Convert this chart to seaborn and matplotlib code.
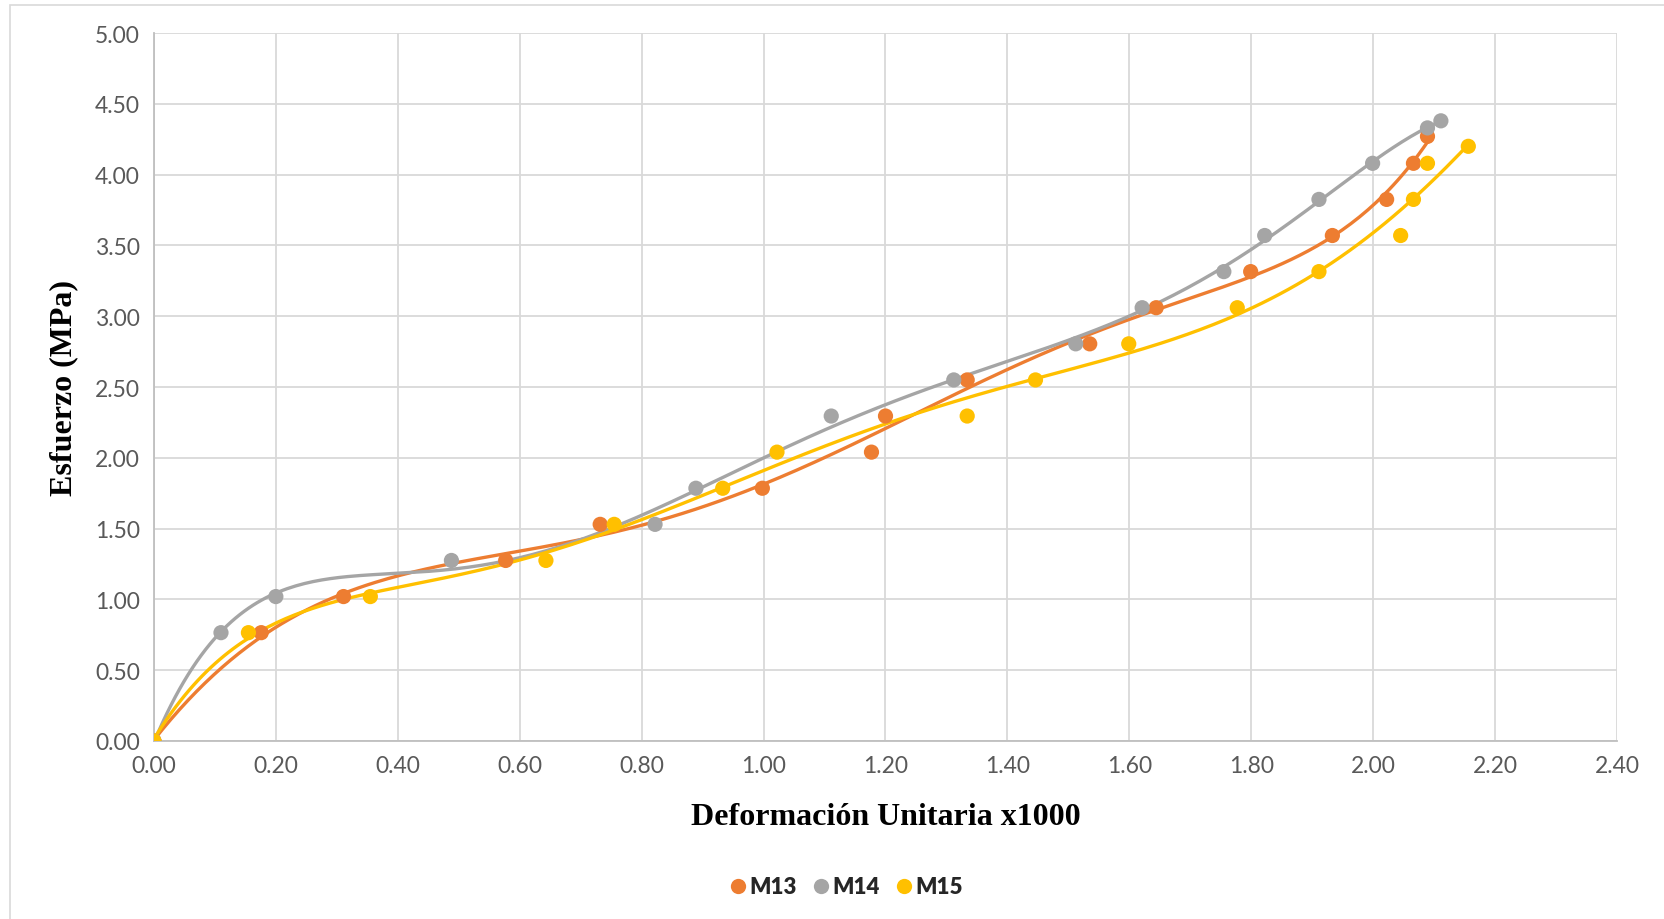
import numpy as np
import pandas as pd
import matplotlib
matplotlib.use("Agg")
import matplotlib.pyplot as plt
import seaborn as sns
from matplotlib.patches import Rectangle
from matplotlib.lines import Line2D

# ---- data ----
series_names = ["M13", "M14", "M15"]
m13_x = [0.0, 0.176, 0.311, 0.577, 0.732, 0.998, 1.177, 1.200, 1.334, 1.535, 1.644, 1.799, 1.933, 2.022, 2.066, 2.089]
m13_y = [0.0, 0.765, 1.02, 1.275, 1.53, 1.785, 2.04, 2.295, 2.55, 2.805, 3.06, 3.315, 3.57, 3.825, 4.08, 4.27]
m14_x = [0.0, 0.110, 0.200, 0.488, 0.822, 0.889, 1.111, 1.312, 1.512, 1.621, 1.755, 1.822, 1.911, 1.999, 2.089, 2.111]
m14_y = [0.0, 0.765, 1.02, 1.275, 1.53, 1.785, 2.295, 2.55, 2.805, 3.06, 3.315, 3.57, 3.825, 4.08, 4.33, 4.38]
m15_x = [0.0, 0.155, 0.355, 0.643, 0.755, 0.933, 1.022, 1.334, 1.446, 1.599, 1.777, 1.911, 2.045, 2.066, 2.089, 2.156]
m15_y = [0.0, 0.765, 1.02, 1.275, 1.53, 1.785, 2.04, 2.295, 2.55, 2.805, 3.06, 3.315, 3.57, 3.825, 4.08, 4.20]
x_ticks = [0.0, 0.2, 0.4, 0.6, 0.8, 1.0, 1.2, 1.4, 1.6, 1.8, 2.0, 2.2, 2.4]
y_ticks = [0.0, 0.5, 1.0, 1.5, 2.0, 2.5, 3.0, 3.5, 4.0, 4.5, 5.0]
colors = {"M13": "#ED7D31", "M14": "#A5A5A5", "M15": "#FFC000"}
trend_degree = 6

pts = pd.concat([
    pd.DataFrame({"x": m13_x, "y": m13_y, "serie": "M13"}),
    pd.DataFrame({"x": m14_x, "y": m14_y, "serie": "M14"}),
    pd.DataFrame({"x": m15_x, "y": m15_y, "serie": "M15"}),
], ignore_index=True)

# polynomial trendlines (like Excel trendlines)
fits = []
for name in series_names:
    d = pts[pts.serie == name]
    c = np.polyfit(d.x, d.y, trend_degree)
    xs = np.linspace(d.x.min(), d.x.max(), 300)
    fits.append(pd.DataFrame({"x": xs, "y": np.polyval(c, xs), "serie": name}))
fits = pd.concat(fits, ignore_index=True)

sns.set_theme(style="white")
plt.rcParams['font.family'] = ['Lato', 'DejaVu Sans']

fig = plt.figure(figsize=(16.64, 9.2), dpi=100)
ax = fig.add_axes([0.0925, 0.1935, 0.8793, 0.7695])

sns.lineplot(data=fits, x="x", y="y", hue="serie", palette=colors, sort=False,
             estimator=None, linewidth=2.4, legend=False, ax=ax, zorder=3)
sns.scatterplot(data=pts, x="x", y="y", hue="serie", palette=colors, s=120,
                edgecolor="none", legend=False, ax=ax, zorder=4)

ax.set_xlim(0, 2.4)
ax.set_ylim(0, 5)
ax.set_xticks(x_ticks)
ax.set_yticks(y_ticks)
ax.set_xticklabels([f"{v:.2f}" for v in x_ticks])
ax.set_yticklabels([f"{v:.2f}" for v in y_ticks])
ax.tick_params(axis="both", length=0, labelsize=16.5, labelcolor="#595959", pad=10)
ax.grid(True, color="#D9D9D9", linewidth=1.3)
ax.set_axisbelow(True)
for side in ["top", "right"]:
    ax.spines[side].set_visible(False)
for side in ["left", "bottom"]:
    ax.spines[side].set_color("#BFBFBF")
    ax.spines[side].set_linewidth(1.3)

ax.set_xlabel("Deformación Unitaria x1000", fontsize=23, fontweight="bold",
              family=["Liberation Serif"], color="black", labelpad=19)
ax.set_ylabel("Esfuerzo (MPa)", fontsize=23, fontweight="bold",
              family=["Liberation Serif"], color="black", labelpad=12)

handles = [Line2D([0], [0], marker="o", linestyle="none", markersize=11,
                  markerfacecolor=colors[n], markeredgecolor="none") for n in series_names]
leg = fig.legend(handles, series_names, loc="center", bbox_to_anchor=(0.507, 0.035),
                 ncol=3, frameon=False, handletextpad=-0.1, columnspacing=0.5,
                 handlelength=1.2, prop={"weight": "heavy", "size": 16})
for t in leg.get_texts():
    t.set_color("#262626")

fig.add_artist(Rectangle((0.006, -0.01), 1.0, 1.004, transform=fig.transFigure,
                         fill=False, edgecolor="#D9D9D9", linewidth=1.2))

fig.savefig("out.png", dpi=100, facecolor="white")
